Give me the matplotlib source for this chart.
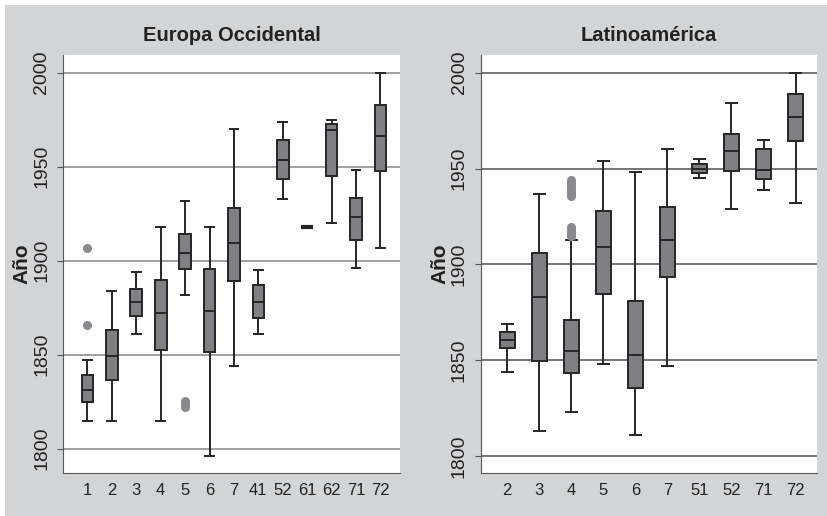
import matplotlib
matplotlib.use("Agg")
import matplotlib.pyplot as plt

plt.rcParams['font.family'] = ['Liberation Sans', 'DejaVu Sans']

# Europa Occidental
eu_labels = ["1", "2", "3", "4", "5", "6", "7", "41", "52", "61", "62", "71", "72"]
eu_whislo = [1815, 1815, 1861, 1815, 1882, 1796, 1844, 1861, 1933, 1918, 1920, 1896, 1907]
eu_q1     = [1825, 1836.5, 1870.5, 1852.5, 1895.5, 1851.5, 1889, 1869.5, 1943.5, 1918, 1945, 1911, 1947.5]
eu_med    = [1831, 1849.5, 1878, 1872, 1904, 1873, 1909.5, 1878, 1953.5, 1918, 1969.5, 1923, 1966.5]
eu_q3     = [1839, 1863, 1885, 1889.5, 1914, 1895.5, 1928, 1887, 1964, 1918, 1972.5, 1933.5, 1983]
eu_whishi = [1847, 1884, 1894, 1918, 1932, 1918, 1970, 1895, 1974, 1918, 1975, 1948, 2000]
eu_fliers = [[1866, 1906.5], [], [], [], [1822.2, 1823.3, 1824.5, 1825.6],
             [], [], [], [], [], [], [], []]

# Latinoamérica
la_labels = ["2", "3", "4", "5", "6", "7", "51", "52", "71", "72"]
la_whislo = [1844, 1813, 1823, 1848, 1811, 1847, 1945, 1929, 1939, 1932]
la_q1     = [1856.5, 1849.5, 1843.5, 1884.5, 1835.5, 1893.5, 1947.5, 1948.5, 1944.5, 1964.5]
la_med    = [1860.5, 1883, 1855, 1909, 1853, 1913, 1950, 1959, 1949, 1977]
la_q3     = [1865, 1906, 1871, 1928, 1881, 1930, 1952.5, 1968, 1960, 1989]
la_whishi = [1869, 1937, 1913, 1954, 1948, 1960, 1955, 1984, 1965, 2000]
la_fliers = [[], [], [1914.7, 1916.3, 1918, 1919.5, 1935.5, 1937, 1938.5, 1940,
                      1941.5, 1943, 1944], [], [], [], [], [], [], []]

bg = "#d3d4d6"
box_fill = "#7f7f84"
edge = "#262626"


def make_stats(labels, lo, q1, med, q3, hi, fl):
    stats = []
    for i in range(len(labels)):
        stats.append({"label": labels[i], "whislo": lo[i], "q1": q1[i], "med": med[i],
                      "q3": q3[i], "whishi": hi[i], "fliers": fl[i]})
    return stats


def draw_panel(ax, stats, title, xlim, ylim, gridcolor, label_x):
    ax.set_facecolor("white")
    for yv in [1800, 1850, 1900, 1950, 2000]:
        ax.axhline(yv, color=gridcolor, lw=1.1, zorder=0)
    n = len(stats)
    parts = ax.bxp(stats, positions=range(1, n + 1), widths=0.48, capwidths=0.36,
                   patch_artist=True,
                   boxprops=dict(facecolor=box_fill, edgecolor=edge, linewidth=1.4),
                   medianprops=dict(color=edge, linewidth=1.4),
                   whiskerprops=dict(color=edge, linewidth=1.4),
                   capprops=dict(color=edge, linewidth=1.4),
                   flierprops=dict(marker="o", markerfacecolor="#8a8a8e",
                                   markeredgecolor="#8a8a8e", markersize=5.5))
    # a box with no spread shows up as a thick bar
    for i, s in enumerate(stats):
        if s["q1"] == s["q3"]:
            parts["boxes"][i].set_linewidth(3)
    ax.set_xlim(*xlim)
    ax.set_ylim(*ylim)
    ax.set_yticks([1800, 1850, 1900, 1950, 2000])
    ax.spines["top"].set_visible(False)
    ax.spines["right"].set_visible(False)
    ax.spines["left"].set_color("#555555")
    ax.spines["bottom"].set_color("#555555")
    ax.tick_params(axis="y", labelrotation=90, length=4.3, pad=5, color="#555555",
                   labelsize=14, labelcolor="#222222")
    for t in ax.get_yticklabels():
        t.set_va("center")
    ax.tick_params(axis="x", length=0, pad=7, labelsize=12, labelcolor="#222222")
    ax.set_title(title, fontsize=14.5, fontweight="bold", pad=10, color="#222222")
    ax.set_ylabel("Año", fontsize=15, fontweight="bold", color="#222222")
    ax.yaxis.set_label_coords(label_x, 0.5)


fig = plt.figure(figsize=(8.27, 5.16), dpi=100, facecolor="white")
fig.patches.append(plt.Rectangle((5 / 827, 0), 1, 1 - 5 / 516, transform=fig.transFigure,
                                 facecolor=bg, edgecolor="none", zorder=-1))

ax1 = fig.add_axes([63 / 827, 1 - 473 / 516, 337 / 827, 418 / 516])
ax2 = fig.add_axes([480.7 / 827, 1 - 473 / 516, 336 / 827, 418 / 516])

draw_panel(ax1, make_stats(eu_labels, eu_whislo, eu_q1, eu_med, eu_q3, eu_whishi, eu_fliers),
           "Europa Occidental", (0.0, 13.8), (1787.1, 2009.4), "#858585", -0.094)
draw_panel(ax2, make_stats(la_labels, la_whislo, la_q1, la_med, la_q3, la_whishi, la_fliers),
           "Latinoamérica", (0.17, 10.66), (1791.3, 2009.2), "#505050", -0.094)

fig.savefig("out.png", dpi=100, facecolor=fig.get_facecolor())
